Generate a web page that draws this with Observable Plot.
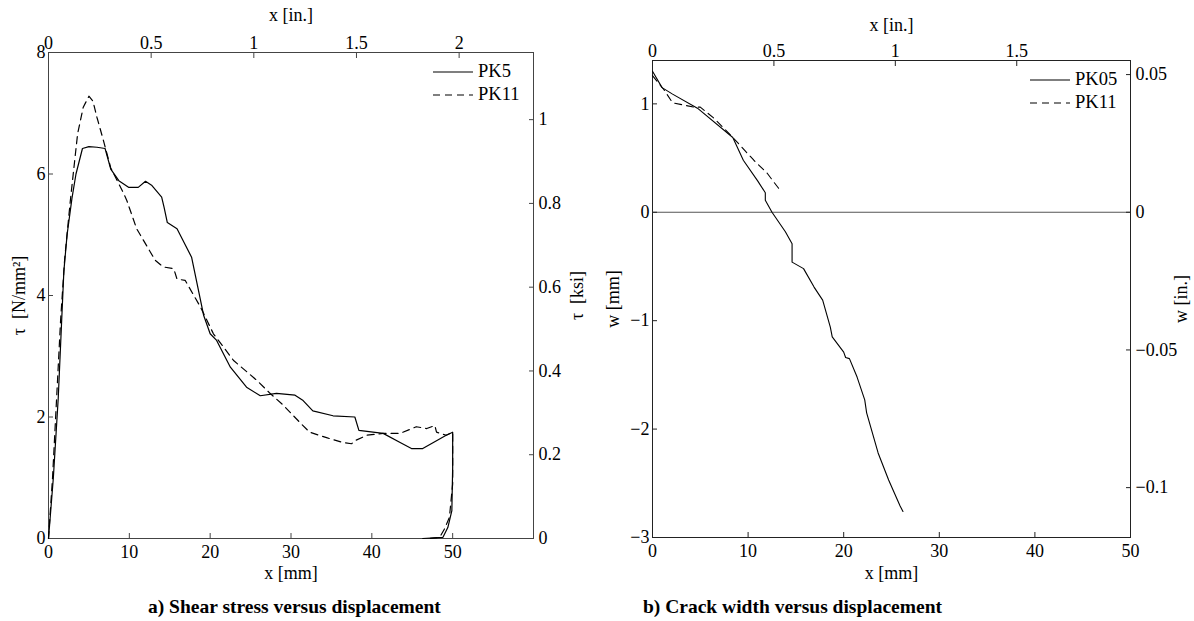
<!DOCTYPE html>
<html><head><meta charset="utf-8">
<script src="https://cdn.jsdelivr.net/npm/d3@7"></script>
<script src="https://cdn.jsdelivr.net/npm/@observablehq/plot@0.6"></script>
<style>
body{margin:0;background:#fff;font-family:"Liberation Serif","Times New Roman",serif;}
#wrap{position:relative;width:1194px;height:621px;overflow:hidden;}
.panel{position:absolute;top:0;}
.caption{position:absolute;top:596px;height:22px;line-height:22px;font-weight:bold;font-size:19.5px;white-space:nowrap;}
.legend{position:absolute;font-size:18.5px;line-height:23px;}
.legend div{display:flex;align-items:center;height:23px;}
.legend svg{margin-right:5px;}
</style></head>
<body><div id="wrap">
<div class="panel" id="pa" style="left:0"></div>
<div class="panel" id="pb" style="left:597px"></div>
<div class="legend" id="lega" style="left:433px;top:60px"></div>
<div class="legend" id="legb" style="left:1030px;top:68px"></div>
<div class="caption" style="left:148px">a) Shear stress versus displacement</div>
<div class="caption" style="left:643px">b) Crack width versus displacement</div>
</div>
<script>
const MM_PER_IN = 25.4;
const NMM2_PER_KSI = 6.89476;

// Panel a: shear stress vs displacement
const pk5X   = [0, 0.6, 1.2, 1.6, 1.9, 2.3, 2.9, 3.4, 4.2, 5.0, 6.0, 7.0, 7.7, 8.7, 9.9, 11.1, 12.0, 12.8, 14.0, 14.3, 14.7, 15.9, 17.7, 19.2, 20.0, 20.8, 22.5, 24.5, 26.2, 28.2, 30.5, 31.5, 32.7, 35.2, 37.9, 38.4, 41.4, 43.5, 44.9, 46.3, 48.0, 49.2, 50.0, 50.0, 49.9, 49.4, 48.8, 46.3];
const pk5Tau = [0, 1.0, 2.3, 3.5, 4.4, 5.0, 5.6, 6.0, 6.42, 6.45, 6.44, 6.42, 6.08, 5.89, 5.78, 5.78, 5.88, 5.81, 5.62, 5.45, 5.2, 5.1, 4.63, 3.67, 3.37, 3.26, 2.82, 2.49, 2.35, 2.39, 2.36, 2.27, 2.1, 2.02, 2.0, 1.78, 1.73, 1.58, 1.48, 1.48, 1.61, 1.7, 1.75, 1.17, 0.46, 0.18, 0.02, 0.0];
const pk11X   = [0, 0.5, 1.0, 1.5, 2.0, 2.7, 3.6, 4.3, 5.0, 5.5, 6.0, 6.8, 7.7, 9.3, 9.7, 10.9, 13.2, 14.2, 15.5, 15.9, 16.9, 18.8, 20.4, 22.9, 25.8, 27.4, 29.0, 31.1, 32.3, 34.4, 36.4, 37.5, 37.9, 39.4, 41.4, 43.5, 45.5, 46.8, 47.8, 48.0, 49.2, 50.0, 50.0, 49.6, 49.0, 48.4, 47.0];
const pk11Tau = [0, 1.0, 2.3, 3.6, 4.6, 5.56, 6.66, 7.1, 7.28, 7.2, 6.93, 6.55, 6.1, 5.68, 5.56, 5.1, 4.58, 4.47, 4.44, 4.27, 4.25, 3.81, 3.37, 2.93, 2.6, 2.39, 2.2, 1.91, 1.75, 1.66, 1.58, 1.56, 1.61, 1.7, 1.73, 1.73, 1.84, 1.81, 1.86, 1.75, 1.7, 1.75, 0.9, 0.35, 0.16, 0.02, 0.0];

// Panel b: crack width vs displacement
const pk05X = [0, 1.0, 2.1, 4.7, 8.4, 9.5, 11.0, 11.8, 11.8, 12.5, 13.9, 14.6, 14.6, 15.8, 16.9, 17.8, 18.6, 18.8, 20.0, 20.2, 20.6, 21.4, 22.2, 22.4, 23.6, 24.7, 25.9, 26.2];
const pk05W = [1.30, 1.15, 1.09, 0.96, 0.69, 0.48, 0.29, 0.18, 0.11, 0.0, -0.18, -0.29, -0.46, -0.52, -0.69, -0.81, -1.06, -1.15, -1.29, -1.34, -1.35, -1.52, -1.73, -1.85, -2.22, -2.47, -2.71, -2.76];
const pk11bX = [0, 1.2, 2.1, 4.3, 5.0, 6.4, 8.4, 10.6, 12.0, 13.2];
const pk11bW = [1.26, 1.13, 1.01, 0.97, 0.97, 0.87, 0.69, 0.48, 0.36, 0.22];

// Tick labels
const mmTicksA = [0, 10, 20, 30, 40, 50];
const inTicksA = [0, 0.5, 1, 1.5, 2];
const tauTicks = [0, 2, 4, 6, 8];
const ksiTicks = [0, 0.2, 0.4, 0.6, 0.8, 1];
const mmTicksB = [0, 10, 20, 30, 40, 50];
const inTicksB = [0, 0.5, 1, 1.5];
const wTicks = [-3, -2, -1, 0, 1];
const wInTicks = [-0.1, -0.05, 0, 0.05];

const FS = 18;
const fmt = d3.format("~g");
const minus = s => s.replace("-", "\u2212");
const toIn = d => minus(fmt(+(d / MM_PER_IN).toFixed(3)));
const toKsi = d => minus(fmt(+(d / NMM2_PER_KSI).toFixed(3)));
const pts = (xs, ys) => xs.map((x, i) => ({x, y: ys[i]}));
const style = {fontFamily: '"Liberation Serif","Times New Roman",serif', fontSize: FS + "px", color: "#000", background: "#fff", overflow: "visible"};
const ax = (o) => Plot[o.k === "x" ? "axisX" : "axisY"]({tickSize: -5, label: null, fontSize: FS, ...o, k: undefined});

const plotA = Plot.plot({
  width: 597, height: 585,
  marginLeft: 48, marginRight: 64, marginTop: 52, marginBottom: 47,
  style,
  x: {domain: [0, 60]},
  y: {domain: [0, 8]},
  marks: [
    Plot.frame({stroke: "#444"}),
    ax({k: "x", anchor: "bottom", ticks: mmTicksA, tickPadding: 12, stroke: "#444"}),
    ax({k: "x", anchor: "top", ticks: inTicksA.map(v => v * MM_PER_IN), tickFormat: toIn, tickPadding: 9, stroke: "#444"}),
    ax({k: "y", anchor: "left", ticks: tauTicks, tickPadding: 8, stroke: "#444"}),
    ax({k: "y", anchor: "right", ticks: ksiTicks.map(v => v * NMM2_PER_KSI), tickFormat: toKsi, tickPadding: 10, stroke: "#444"}),
    Plot.line(pts(pk5X, pk5Tau), {x: "x", y: "y", stroke: "#000", strokeWidth: 1.2}),
    Plot.line(pts(pk11X, pk11Tau), {x: "x", y: "y", stroke: "#000", strokeWidth: 1.2, strokeDasharray: "7,5"}),
    Plot.text(["x [mm]"], {frameAnchor: "bottom", dy: 35, lineAnchor: "middle", textAnchor: "middle", fontSize: FS}),
    Plot.text(["x [in.]"], {frameAnchor: "top", dy: -37, lineAnchor: "middle", textAnchor: "middle", fontSize: FS}),
    Plot.text(["\u03c4  [N/mm\u00b2]"], {frameAnchor: "left", dx: -29, rotate: -90, lineAnchor: "middle", textAnchor: "middle", fontSize: FS}),
    Plot.text(["\u03c4  [ksi]"], {frameAnchor: "right", dx: 44, rotate: -90, lineAnchor: "middle", textAnchor: "middle", fontSize: FS})
  ]
});
document.getElementById("pa").appendChild(plotA);

const plotB = Plot.plot({
  width: 597, height: 585,
  marginLeft: 55, marginRight: 64, marginTop: 60, marginBottom: 48,
  style,
  x: {domain: [0, 50]},
  y: {domain: [-3, 1.4]},
  marks: [
    Plot.frame({stroke: "#222"}),
    Plot.ruleY([0], {stroke: "#555", strokeWidth: 1.2}),
    ax({k: "x", anchor: "bottom", ticks: mmTicksB, tickPadding: 12, stroke: "#222"}),
    ax({k: "x", anchor: "top", ticks: inTicksB.map(v => v * MM_PER_IN), tickFormat: toIn, tickPadding: 9, stroke: "#222"}),
    ax({k: "y", anchor: "left", ticks: wTicks, tickFormat: d => minus(fmt(d)), tickPadding: 8, stroke: "#222"}),
    ax({k: "y", anchor: "right", ticks: wInTicks.map(v => v * MM_PER_IN), tickFormat: toIn, tickPadding: 10, stroke: "#222"}),
    Plot.line(pts(pk05X, pk05W), {x: "x", y: "y", stroke: "#000", strokeWidth: 1.1}),
    Plot.line(pts(pk11bX, pk11bW), {x: "x", y: "y", stroke: "#000", strokeWidth: 1.1, strokeDasharray: "7,5"}),
    Plot.text(["x [mm]"], {frameAnchor: "bottom", dy: 36, lineAnchor: "middle", textAnchor: "middle", fontSize: FS}),
    Plot.text(["x [in.]"], {frameAnchor: "top", dy: -35, lineAnchor: "middle", textAnchor: "middle", fontSize: FS}),
    Plot.text(["w [mm]"], {frameAnchor: "left", dx: -39, rotate: -90, lineAnchor: "middle", textAnchor: "middle", fontSize: FS}),
    Plot.text(["w [in.]"], {frameAnchor: "right", dx: 51, rotate: -90, lineAnchor: "middle", textAnchor: "middle", fontSize: FS})
  ]
});
document.getElementById("pb").appendChild(plotB);

function legend(id, names) {
  const el = document.getElementById(id);
  const dashes = [null, "7,5"];
  names.forEach((n, i) => {
    const row = document.createElement("div");
    row.innerHTML = `<svg width="40" height="4"><line x1="0" x2="40" y1="2" y2="2" stroke="#000" stroke-width="1.2"${dashes[i] ? ` stroke-dasharray="${dashes[i]}"` : ""}/></svg><span>${n}</span>`;
    el.appendChild(row);
  });
}
legend("lega", ["PK5", "PK11"]);
legend("legb", ["PK05", "PK11"]);
</script>
</body></html>
